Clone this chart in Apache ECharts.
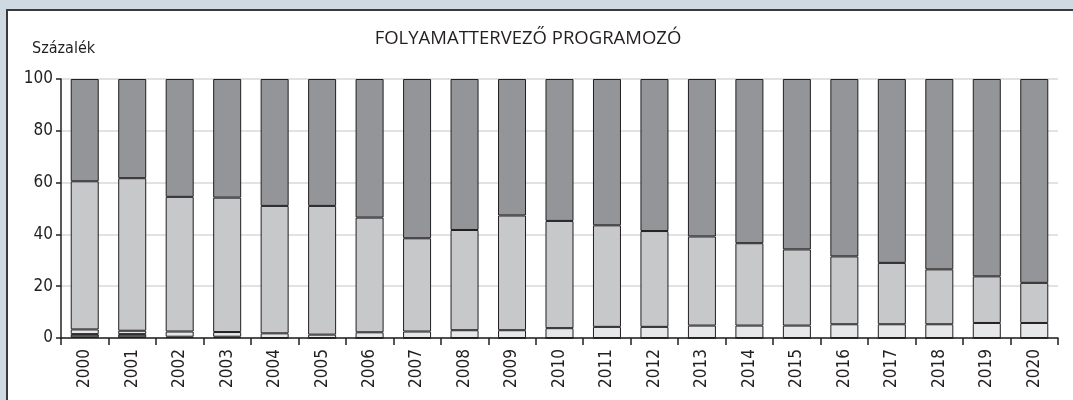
<!DOCTYPE html>
<html>
<head>
<meta charset="utf-8">
<script src="https://cdn.jsdelivr.net/npm/echarts@6/dist/echarts.min.js"></script>
<style>
  html, body { margin: 0; padding: 0; overflow: hidden; }
  body { width: 1073px; height: 400px; background: #cfd9e2; position: relative; }
  #panel { position: absolute; left: 6px; top: 9px; width: 1200px; height: 500px; background: #fff;
           border-left: 2px solid #3a3a3a; border-top: 2px solid #3a3a3a; }
  #chart { position: absolute; left: 0; top: 0; width: 1073px; height: 400px; }
</style>
</head>
<body>
<div id="panel"></div>
<div id="chart"></div>
<script>
// évek
var years = ['2000','2001','2002','2003','2004','2005','2006','2007','2008','2009','2010',
             '2011','2012','2013','2014','2015','2016','2017','2018','2019','2020'];
// legalsó, sötét sáv
var darkPart = [1.5, 1.5, 0.5, 0.5, 0, 0, 0, 0, 0, 0, 0, 0, 0, 0, 0, 0, 0, 0, 0, 0, 0];
// világos sáv
var lightPart = [1.8, 1.3, 2.0, 1.8, 1.8, 1.3, 2.2, 2.5, 3.0, 3.0, 3.8, 4.3, 4.3, 4.8, 4.8, 4.8, 5.3, 5.3, 5.3, 5.8, 5.8];
// középszürke sáv
var midPart = [57.2, 58.9, 52.0, 51.9, 49.2, 49.7, 44.3, 36.0, 38.7, 44.3, 41.4, 39.2, 37.0, 34.4, 31.8, 29.4, 26.2, 23.7, 21.2, 18.0, 15.5];
// felső sáv
var topPart = [39.5, 38.3, 45.5, 45.8, 49.0, 49.0, 53.5, 61.5, 58.3, 52.7, 54.8, 56.5, 58.7, 60.8, 63.4, 65.8, 68.5, 71.0, 73.5, 76.2, 78.7];
var yTicks = [0, 20, 40, 60, 80, 100];

var font = "'Liberation Sans Narrow', 'DejaVu Sans Condensed', sans-serif";

function bar(name, data, color) {
  return {
    name: name,
    type: 'bar',
    stack: 'all',
    data: data,
    barCategoryGap: '41%',
    itemStyle: { color: color, borderColor: '#231f20', borderWidth: 1 }
  };
}

var chart = echarts.init(document.getElementById('chart'));
chart.setOption({
  backgroundColor: 'transparent',
  animation: false,
  title: {
    text: 'FOLYAMATTERVEZŐ PROGRAMOZÓ',
    left: 523, top: 24, textAlign: 'center',
    textStyle: { fontFamily: "'Open Sans', sans-serif", fontSize: 18.5, fontWeight: 'normal', color: '#231f20' }
  },
  graphic: [{
    type: 'text', left: 32, top: 41,
    style: { text: 'Százalék', font: '16px ' + font, fill: '#231f20' }
  }],
  grid: { left: 61, right: 15, top: 79, bottom: 62 },
  xAxis: {
    type: 'category',
    data: years,
    axisLine: { lineStyle: { color: '#231f20', width: 1.5 } },
    axisTick: { show: true, length: 7, lineStyle: { color: '#231f20', width: 1.5 } },
    axisLabel: { rotate: 90, margin: 11, fontFamily: font, fontSize: 17, color: '#231f20' }
  },
  yAxis: {
    type: 'value',
    min: yTicks[0], max: yTicks[yTicks.length - 1], interval: 20,
    axisLine: { show: true, lineStyle: { color: '#231f20', width: 1.5 } },
    axisTick: { show: true, length: 5, lineStyle: { color: '#231f20', width: 1.5 } },
    axisLabel: { margin: 8, fontFamily: font, fontSize: 17, color: '#231f20' },
    splitLine: { lineStyle: { color: '#d9d9d9', width: 1.5 } }
  },
  series: [
    bar('a', darkPart, '#58595b'),
    bar('b', lightPart, '#e6e7e8'),
    bar('c', midPart, '#c7c8ca'),
    bar('d', topPart, '#939598')
  ]
});
</script>
</body>
</html>
